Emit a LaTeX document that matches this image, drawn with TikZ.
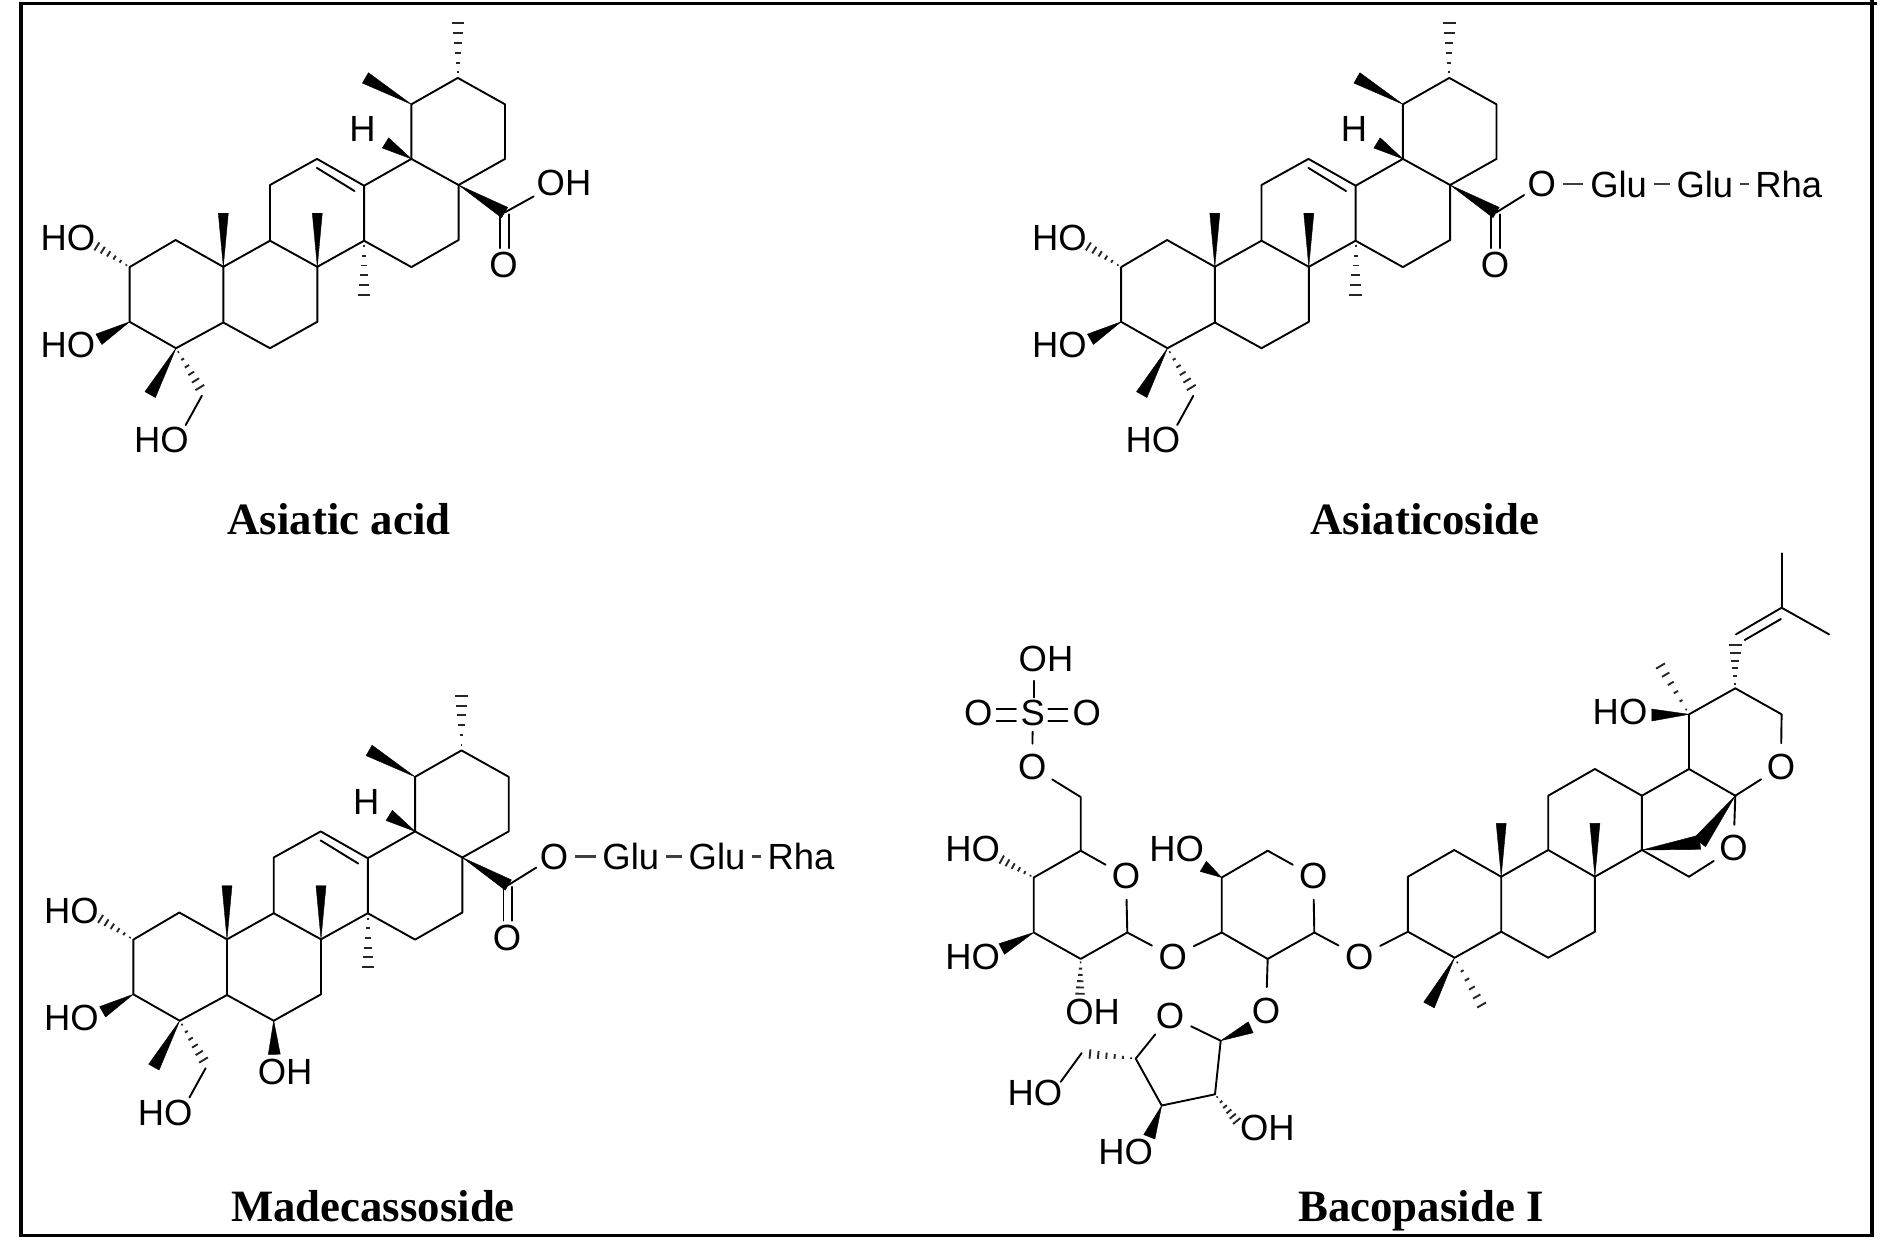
\documentclass[tikz,border=0pt]{standalone}
\usepackage{fontspec}
\usetikzlibrary{calc}
\newfontfamily\atomfam{Liberation Sans}
\newfontfamily\titlefam{Liberation Serif}[BoldFont={Liberation Serif Bold}]
\tikzset{
  bd/.style={line width=0.95pt,line cap=round,line join=round},
  hashline/.style={line width=0.95pt,black!85},
  atom/.style={font=\atomfam\fontsize{18.2}{20}\selectfont,inner sep=0pt},
  oatom/.style={atom,circle,inner sep=1.4pt},
  esterO/.style={atom,circle,inner sep=0.5pt},
  sugar/.style={atom,inner ysep=0pt,inner xsep=3.2pt},
  linker/.style={line width=1.1pt,black!75},
  mtitle/.style={font=\titlefam\bfseries\fontsize{22.4}{26}\selectfont,inner sep=0pt,anchor=base},
  frameline/.style={line width=1.6pt,line cap=butt}
}
% solid wedge: narrow at #2, half width #1 at #3
\newcommand\wdg[3][2.5pt]{\fill[bd,draw=black,line width=0.2pt] (#2) -- ($(#3)!#1!90:(#2)$) -- ($(#3)!#1!-90:(#2)$) -- cycle;}
% hashed wedge: narrow at #2, half width #1 (pt, number) at #3
\newcommand\hsh[3][3]{\foreach \tt in {0.10,0.28,0.46,0.64,0.82,1.0}{%
  \coordinate (hp) at ($(#2)!\tt!(#3)$);
  \pgfmathsetmacro\hw{#1*\tt+0.15}
  \draw[hashline] ($(hp)!\hw pt!90:(#2)$) -- ($(hp)!\hw pt!-90:(#2)$);}}
% common triterpene part, prefix #1
\newcommand\triterp[1]{%
  \coordinate (#1c1) at (175.6,240);
  \coordinate (#1c2) at (129.6,267.1);
  \coordinate (#1c3) at (129.6,321.8);
  \coordinate (#1c4) at (176,348.2);
  \coordinate (#1c5) at (223.3,322.5);
  \coordinate (#1c10) at (223.3,266.8);
  \coordinate (#1c6) at (270,348.2);
  \coordinate (#1c7) at (317.3,321.8);
  \coordinate (#1c8) at (317.3,266.8);
  \coordinate (#1c9) at (270,240.7);
  \coordinate (#1c11) at (270,185);
  \coordinate (#1c12) at (317,158.9);
  \coordinate (#1c13) at (364.1,185.7);
  \coordinate (#1c14) at (364.1,240.7);
  \coordinate (#1c15) at (411.4,267.1);
  \coordinate (#1c16) at (458.6,240);
  \coordinate (#1c17) at (458.6,185);
  \coordinate (#1c18) at (411.4,158.9);
  \coordinate (#1c19) at (411.4,104.3);
  \coordinate (#1c20) at (457.8,77.9);
  \coordinate (#1c21) at (505,104.3);
  \coordinate (#1c22) at (505,158.9);
  \coordinate (#1db1) at (316.9,167.9);
  \coordinate (#1db2) at (354.5,191);
  \coordinate (#1m10) at (223.3,213.2);
  \coordinate (#1m8) at (317.3,213.2);
  \coordinate (#1m14) at (364.1,294.6);
  \coordinate (#1m20) at (457.8,23.2);
  \coordinate (#1m19) at (365.4,77.9);
  \coordinate (#1hb) at (385.5,142.9);
  \coordinate (#1cc) at (504.6,212.5);
  \coordinate (#1oa1) at (499.8,214.3);
  \coordinate (#1oa2) at (499.8,248.2);
  \coordinate (#1ob1) at (508.7,214.3);
  \coordinate (#1ob2) at (508.7,248.2);
  \coordinate (#1ho2b) at (96.9,246.4);
  \coordinate (#1ho3b) at (98.9,339.3);
  \coordinate (#1m4) at (150.2,394.6);
  \coordinate (#1ch2) at (199.8,387.5);
  \coordinate (#1ch2a) at (201.9,395.7);
  \coordinate (#1ch2b) at (185.7,425);
  \draw[bd] (#1c2) -- (#1c1) -- (#1c10) -- (#1c5) -- (#1c4) -- (#1c3) -- (#1c2);
  \draw[bd] (#1c5) -- (#1c6) -- (#1c7) -- (#1c8) -- (#1c9) -- (#1c10);
  \draw[bd] (#1c9) -- (#1c11) -- (#1c12) -- (#1c13) -- (#1c14) -- (#1c8);
  \draw[bd] (#1db1) -- (#1db2);
  \draw[bd] (#1c14) -- (#1c15) -- (#1c16) -- (#1c17) -- (#1c18) -- (#1c13);
  \draw[bd] (#1c18) -- (#1c19) -- (#1c20) -- (#1c21) -- (#1c22) -- (#1c17);
  \draw[bd] (#1oa1) -- (#1oa2);
  \draw[bd] (#1ob1) -- (#1ob2);
  \draw[bd] (#1ch2a) -- (#1ch2b);
  \wdg{#1c10}{#1m10}
  \wdg{#1c8}{#1m8}
  \wdg[3pt]{#1c19}{#1m19}
  \wdg[3pt]{#1c18}{#1hb}
  \wdg[3pt]{#1c17}{#1cc}
  \wdg[3pt]{#1c3}{#1ho3b}
  \wdg[3pt]{#1c4}{#1m4}
  \hsh{#1c14}{#1m14}
  \hsh{#1c20}{#1m20}
  \hsh[2.2]{#1c2}{#1ho2b}
  \hsh[2.4]{#1c4}{#1ch2}
  \node[atom] (#1hoa) at (67.8,238.2) {HO};
  \node[atom] (#1hob) at (67.8,345.4) {HO};
  \node[atom] (#1hoc) at (161.5,440) {HO};
  \node[atom] (#1h) at (362.5,129.3) {H};
  \node[atom] (#1oc) at (503.4,265) {O};
}
% glycoside tail, prefix #1
\newcommand\tailchain[1]{%
  \node[esterO] (#1oe) at (550.3,184) {O};
  \node[sugar] (#1g1) at (627.1,184) {Glu};
  \node[sugar] (#1g2) at (713.3,184) {Glu};
  \node[sugar] (#1rh) at (797.2,184) {Rha};
  \draw[bd] (#1cc) -- (#1oe);
  \draw[linker] (#1oe) -- (#1g1);
  \draw[linker] (#1g1) -- (#1g2);
  \draw[linker] (#1g2) -- (#1rh);
}
\begin{document}
\begin{tikzpicture}[x=0.5pt,y=-0.5pt]
\useasboundingbox (0,0) rectangle (1900,1239);
% frame
\coordinate (fa) at (21,1235.7);
\coordinate (fb) at (21,3.3);
\coordinate (fc) at (1877,3.3);
\coordinate (fd) at (1872,0);
\coordinate (fe) at (1872,1235.7);
\draw[frameline] (fb) -- (fc);
\draw[frameline] (fd) -- (fe);
\draw[frameline,line cap=rect] (fb) -- (fa) -- (fe);
% Asiatic acid
\begin{scope}
  \triterp{A}
  \coordinate (Aoh) at (533.7,196.4);
  \draw[bd] (Acc) -- (Aoh);
  \node[atom] (Aohl) at (564,183.2) {OH};
  \node[mtitle] (tA) at (339,534) {Asiatic acid};
\end{scope}
% Asiaticoside
\begin{scope}[shift={(991.5,0)}]
  \triterp{B}
  \tailchain{B}
  \node[mtitle] (tB) at (433.5,534) {Asiaticoside};
\end{scope}
% Madecassoside
\begin{scope}[shift={(3.7,672.5)}]
  \triterp{C}
  \tailchain{C}
  \coordinate (Cohb) at (270.6,381.8);
  \wdg[3pt]{Cc6}{Cohb}
  \node[atom] (Cohl) at (281.5,399.7) {OH};
  \node[mtitle] (tC) at (369.3,548.5) {Madecassoside};
\end{scope}
% Bacopaside I
\coordinate (b1) at (1454.2,850);
\coordinate (b2) at (1407.9,876.7);
\coordinate (b3) at (1407.9,931.7);
\coordinate (b4) at (1454.6,957.7);
\coordinate (b5) at (1501.2,931.7);
\coordinate (b10) at (1501.2,876.7);
\coordinate (b6) at (1548.2,957.7);
\coordinate (b7) at (1594.9,931.7);
\coordinate (b8) at (1594.9,876.7);
\coordinate (b9) at (1548.2,850);
\coordinate (b11) at (1548.2,795.7);
\coordinate (b12) at (1594.9,769);
\coordinate (b13) at (1641.9,795.7);
\coordinate (b14) at (1641.9,850);
\coordinate (b17) at (1689,769);
\coordinate (bq) at (1735.3,795.7);
\coordinate (b20) at (1689,714.3);
\coordinate (b22) at (1735.3,688.3);
\coordinate (b23) at (1781.6,714.3);
\coordinate (b30) at (1689,876.7);
\coordinate (bw) at (1699.8,842.3);
\coordinate (bs) at (1735.3,645);
\coordinate (bd1) at (1736,634.3);
\coordinate (bd2) at (1781.6,607.7);
\coordinate (bd3) at (1744.7,640);
\coordinate (bd4) at (1780.9,619);
\coordinate (bm1) at (1781.6,553.3);
\coordinate (bm2) at (1829,634.3);
\coordinate (bho) at (1651.8,715);
\coordinate (bmh) at (1660.5,666);
\coordinate (bm10) at (1501.2,823.3);
\coordinate (bm8) at (1594.9,823.3);
\coordinate (bm4a) at (1429,1005);
\coordinate (bm4b) at (1481.6,1005);
\node[oatom] (bO1) at (1780.9,766.7) {O};
\node[oatom] (bO2) at (1733.5,848.3) {O};
\node[atom] (bHO) at (1620,712.3) {HO};
\draw[bd] (b3) -- (b2) -- (b1) -- (b10) -- (b5) -- (b4) -- (b3);
\draw[bd] (b5) -- (b6) -- (b7) -- (b8) -- (b9) -- (b10);
\draw[bd] (b9) -- (b11) -- (b12) -- (b13) -- (b14) -- (b8);
\draw[bd] (b13) -- (b17) -- (bq);
\draw[bd] (b17) -- (b20) -- (b22) -- (b23) -- (bO1);
\draw[bd] (bq) -- (bO1);
\draw[bd] (bq) -- (bO2);
\draw[bd] (b14) -- (b30) -- (bO2);
\draw[bd] (bd1) -- (bd2);
\draw[bd] (bd3) -- (bd4);
\draw[bd] (bd2) -- (bm1);
\draw[bd] (bd2) -- (bm2);
\wdg{b10}{bm10}
\wdg{b8}{bm8}
\wdg[3.6pt]{b14}{bw}
\wdg[3.6pt]{bq}{bw}
\wdg[3pt]{b20}{bho}
\wdg[3pt]{b4}{bm4a}
\hsh[3]{b22}{bs}
\hsh[2.4]{b20}{bmh}
\hsh[2.4]{b4}{bm4b}
% xylose ring
\coordinate (x1) at (1314.3,932.5);
\coordinate (x2) at (1267.7,958.9);
\coordinate (x3) at (1221.7,932.5);
\coordinate (x4) at (1221.7,877.5);
\coordinate (x5) at (1267.7,850.7);
\coordinate (x4b) at (1203.3,866.3);
\node[oatom] (Oa) at (1359.3,956.6) {O};
\node[oatom] (Ox) at (1313.3,876.2) {O};
\node[oatom] (Ob) at (1172.7,956.6) {O};
\node[oatom] (Oc) at (1266,1010.7) {O};
\node[atom] (xHO) at (1176.7,849.3) {HO};
\draw[bd] (b3) -- (Oa) -- (x1) -- (Ox) -- (x5) -- (x4) -- (x3) -- (x2) -- (x1);
\draw[bd] (x3) -- (Ob);
\draw[bd] (x2) -- (Oc);
\wdg[3pt]{x4}{x4b}
% glucose ring
\coordinate (g1) at (1127.3,932.5);
\coordinate (g2) at (1080.7,958.9);
\coordinate (g3) at (1033.7,932.5);
\coordinate (g4) at (1033.7,877.5);
\coordinate (g5) at (1080.7,850.7);
\coordinate (g6) at (1080.7,797);
\coordinate (g4b) at (1001.7,859.6);
\coordinate (g3b) at (1001.7,949);
\coordinate (g2b) at (1080,993.7);
\node[oatom] (Og) at (1126,876.2) {O};
\node[oatom] (O6) at (1032.3,767.1) {O};
\node[atom,inner sep=2.5pt] (S) at (1032.7,713.4) {S};
\node[atom] (gOH) at (1046,658.5) {OH};
\node[oatom] (Osl) at (978.3,713.4) {O};
\node[oatom] (Osr) at (1086.7,713.4) {O};
\node[atom] (gHOa) at (972.7,849.3) {HO};
\node[atom] (gHOb) at (972.7,956.6) {HO};
\node[atom] (gOHc) at (1092.7,1011.6) {OH};
\draw[bd] (Ob) -- (g1) -- (Og) -- (g5) -- (g4) -- (g3) -- (g2) -- (g1);
\draw[bd] (g5) -- (g6) -- (O6);
\draw[bd] (O6) -- (S);
\coordinate (sa) at (1034,680.8);
\coordinate (sb) at (1034,697.4);
\draw[bd] (sa) -- (sb);
\coordinate (sl1) at (996.7,709);
\coordinate (sl2) at (1016,709);
\coordinate (sl3) at (996.7,721);
\coordinate (sl4) at (1016,721);
\coordinate (sr1) at (1048.3,709);
\coordinate (sr2) at (1067.3,709);
\coordinate (sr3) at (1048.3,721);
\coordinate (sr4) at (1067.3,721);
\draw[bd] (sl1) -- (sl2);
\draw[bd] (sl3) -- (sl4);
\draw[bd] (sr1) -- (sr2);
\draw[bd] (sr3) -- (sr4);
\hsh[2.2]{g4}{g4b}
\wdg[3pt]{g3}{g3b}
\hsh[2.2]{g2}{g2b}
% furanose ring
\coordinate (f1) at (1220.7,1040.7);
\coordinate (f2) at (1215,1094.3);
\coordinate (f3) at (1161.7,1105.5);
\coordinate (f4) at (1135.7,1058.6);
\coordinate (f5) at (1081.7,1053);
\coordinate (f1b) at (1250.7,1027.3);
\coordinate (f3b) at (1149.3,1136.8);
\coordinate (f2b) at (1236.7,1121);
\coordinate (f4b) at (1090,1054);
\coordinate (f5b) at (1060.7,1081.8);
\node[oatom] (Of) at (1170,1016) {O};
\node[atom] (fHOa) at (1125.7,1152.4) {HO};
\node[atom] (fOH) at (1267.3,1127.8) {OH};
\node[atom] (fHOb) at (1035,1093.4) {HO};
\draw[bd] (Of) -- (f1) -- (f2) -- (f3) -- (f4) -- (Of);
\draw[bd] (f5) -- (f5b);
\wdg[3pt]{f1}{f1b}
\wdg[3pt]{f3}{f3b}
\hsh[2.2]{f2}{f2b}
\hsh[2.2]{f4}{f4b}
\node[mtitle] (tD) at (1421,1221) {Bacopaside I};
\end{tikzpicture}
\end{document}
